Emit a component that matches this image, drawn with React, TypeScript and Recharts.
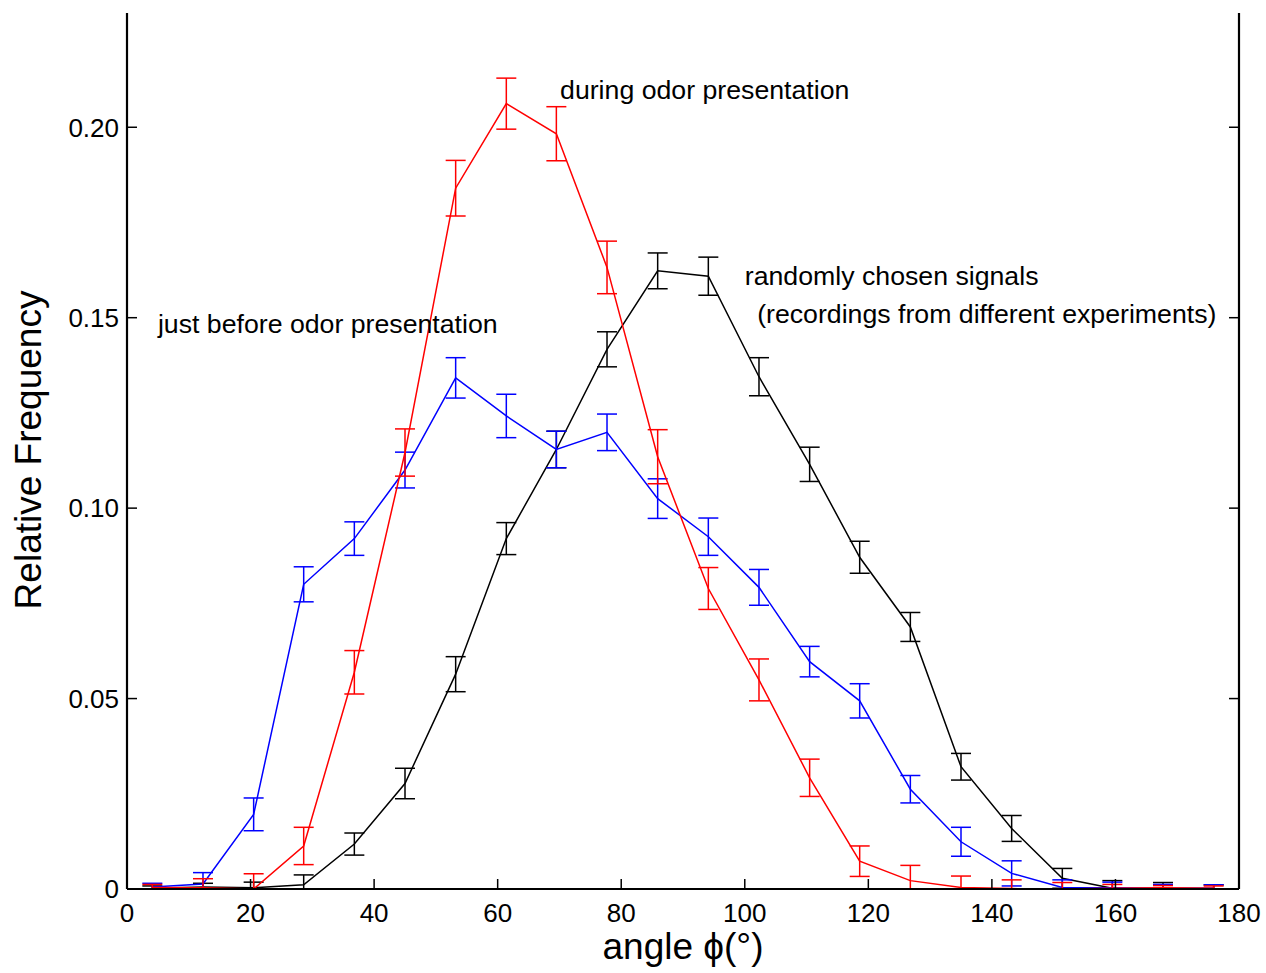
import { LineChart, Line, XAxis, YAxis, ErrorBar, ReferenceDot } from 'recharts'

// bin centres of the angle histogram (degrees)
const angles = [4.1, 12.3, 20.5, 28.6, 36.8, 45.0, 53.2, 61.4, 69.5, 77.7, 85.9, 94.1, 102.3, 110.5, 118.6, 126.8, 135.0, 143.2, 151.4, 159.5, 167.7, 175.9]

// just before odor presentation (blue)
const before = [0.0005, 0.0013, 0.0196, 0.080, 0.092, 0.110, 0.1342, 0.1242, 0.1154, 0.1199, 0.1025, 0.0925, 0.0792, 0.0597, 0.0494, 0.0262, 0.0124, 0.0041, 0.0004, 0.0003, 0.0002, 0.0002]
const beforeErr = [0.001, 0.003, 0.0043, 0.0046, 0.0044, 0.0047, 0.0053, 0.0057, 0.0048, 0.0048, 0.0052, 0.0049, 0.0047, 0.004, 0.0045, 0.0036, 0.0038, 0.0033, 0.002, 0.0015, 0.001, 0.0009]

// during odor presentation (red)
const during = [0.0004, 0.0003, 0.0, 0.0113, 0.0569, 0.1146, 0.184, 0.2062, 0.1983, 0.1632, 0.1135, 0.0789, 0.0549, 0.0292, 0.0073, 0.0022, 0.0004, 0.0001, 0.0, 0.0002, 0.0003, 0.0002]
const duringErr = [0.0008, 0.0024, 0.004, 0.0049, 0.0057, 0.0062, 0.0073, 0.0067, 0.0071, 0.0069, 0.0071, 0.0055, 0.0055, 0.0049, 0.004, 0.004, 0.003, 0.0023, 0.0017, 0.001, 0.0006, 0.0006]

// randomly chosen signals (black)
const randomSig = [0.0002, 0.0005, 0.0003, 0.0011, 0.0118, 0.0277, 0.0564, 0.092, 0.1154, 0.1417, 0.1623, 0.1609, 0.1345, 0.1115, 0.0871, 0.0688, 0.0321, 0.0159, 0.0028, 0.0002, 0.0001, 0.0001]
const randomSigErr = [0.0006, 0.001, 0.0015, 0.0026, 0.0029, 0.004, 0.0046, 0.0042, 0.0048, 0.0046, 0.0047, 0.005, 0.005, 0.0045, 0.0042, 0.0038, 0.0035, 0.0034, 0.0026, 0.002, 0.0016, 0.001]

const xTicks = [0, 20, 40, 60, 80, 100, 120, 140, 160, 180]
const yTicks = [0, 0.05, 0.1, 0.15, 0.2]
const yTickLabels = ['0', '0.05', '0.10', '0.15', '0.20']

const notes = [
  { x: 70.1, y: 0.21, text: 'during odor presentation' },
  { x: 100.0, y: 0.1612, text: 'randomly chosen signals' },
  { x: 102.0, y: 0.1512, text: '(recordings from different experiments)' },
  { x: 5.0, y: 0.1486, text: 'just before odor presentation' },
]

// the plot cuts error bars off at zero, so the lower arm never passes the axis
const bar = (v: number, e: number) => [Math.min(e, v), e]

const data = angles.map((a, i) => ({
  angle: a,
  before: before[i], beforeErr: bar(before[i], beforeErr[i]),
  during: during[i], duringErr: bar(during[i], duringErr[i]),
  randomSig: randomSig[i], randomSigErr: bar(randomSig[i], randomSigErr[i]),
}))

const FONT = '"Liberation Sans", Arial, Helvetica, sans-serif'
const TICK = 10

const LeftTick = ({ x, y, payload }: any) => (
  <g>
    <line x1={x} x2={x + TICK} y1={y} y2={y} stroke="#000" strokeWidth={1.5} />
    <text x={x - 8} y={y} dy="0.36em" textAnchor="end" fontFamily={FONT} fontSize={26} fill="#000">
      {yTickLabels[yTicks.indexOf(payload.value)]}
    </text>
  </g>
)

const RightTick = ({ x, y }: any) => (
  <line x1={x} x2={x - TICK} y1={y} y2={y} stroke="#000" strokeWidth={1.5} />
)

const BottomTick = ({ x, y, payload }: any) => (
  <g>
    <line x1={x} x2={x} y1={y} y2={y - TICK} stroke="#000" strokeWidth={1.5} />
    <text x={x} y={y + 33} textAnchor="middle" fontFamily={FONT} fontSize={26} fill="#000">
      {payload.value}
    </text>
  </g>
)

const TopTick = ({ x, y }: any) => (
  <line x1={x} x2={x} y1={y} y2={y + TICK} stroke="#000" strokeWidth={1.5} />
)

const axisLine = { stroke: '#000', strokeWidth: 2.2 }

export default function App() {
  return (
    <div style={{ position: 'absolute', left: 0, top: 0, width: 1266, height: 973, background: '#fff' }}>
      <LineChart width={1266} height={973} data={data} margin={{ top: 13, right: 0, left: 0, bottom: 0 }}>
        <XAxis
          dataKey="angle" type="number" domain={[0, 180]} ticks={xTicks}
          height={84} tickLine={false} tickSize={0} tickMargin={0}
          axisLine={axisLine} tick={<BottomTick />}
          label={{
            content: ({ viewBox }: any) => (
              <text x={viewBox.x + viewBox.width / 2} y={viewBox.y + 70} textAnchor="middle"
                fontFamily={FONT} fontSize={37} fill="#000">angle ϕ(°)</text>
            ),
          }}
        />
        <XAxis
          xAxisId="top" orientation="top" dataKey="angle" type="number" domain={[0, 180]} ticks={xTicks}
          height={0} tickLine={false} tickSize={0} tickMargin={0} axisLine={axisLine} tick={<TopTick />}
        />
        <YAxis
          type="number" domain={[0, 0.23]} ticks={yTicks} allowDataOverflow
          width={127} tickLine={false} tickSize={0} tickMargin={0}
          axisLine={axisLine} tick={<LeftTick />}
          label={{
            content: ({ viewBox }: any) => {
              const cx = 28
              const cy = viewBox.y + viewBox.height / 2 - 1
              return (
                <text x={cx} y={cy} dy="0.36em" textAnchor="middle" transform={`rotate(-90 ${cx} ${cy})`}
                  fontFamily={FONT} fontSize={37} fill="#000">Relative Frequency</text>
              )
            },
          }}
        />
        <YAxis
          yAxisId="right" orientation="right" type="number" domain={[0, 0.23]} ticks={yTicks} allowDataOverflow
          width={27} tickLine={false} tickSize={0} tickMargin={0} axisLine={axisLine} tick={<RightTick />}
        />

        <Line dataKey="randomSig" stroke="#000" strokeWidth={1.5} dot={false} isAnimationActive={false}>
          <ErrorBar dataKey="randomSigErr" width={10} stroke="#000" strokeWidth={1.5} isAnimationActive={false} />
        </Line>
        <Line dataKey="before" stroke="#0000ff" strokeWidth={1.5} dot={false} isAnimationActive={false}>
          <ErrorBar dataKey="beforeErr" width={10} stroke="#0000ff" strokeWidth={1.5} isAnimationActive={false} />
        </Line>
        <Line dataKey="during" stroke="#ff0000" strokeWidth={1.5} dot={false} isAnimationActive={false}>
          <ErrorBar dataKey="duringErr" width={10} stroke="#ff0000" strokeWidth={1.5} isAnimationActive={false} />
        </Line>

        {notes.map((n) => (
          <ReferenceDot
            key={n.text} x={n.x} y={n.y} r={0} fill="none" stroke="none" ifOverflow="visible"
            label={{
              content: ({ viewBox }: any) => (
                <text x={viewBox.x} y={viewBox.y} dy="0.36em" textAnchor="start"
                  fontFamily={FONT} fontSize={26.7} fill="#000">{n.text}</text>
              ),
            }}
          />
        ))}
      </LineChart>
    </div>
  )
}
